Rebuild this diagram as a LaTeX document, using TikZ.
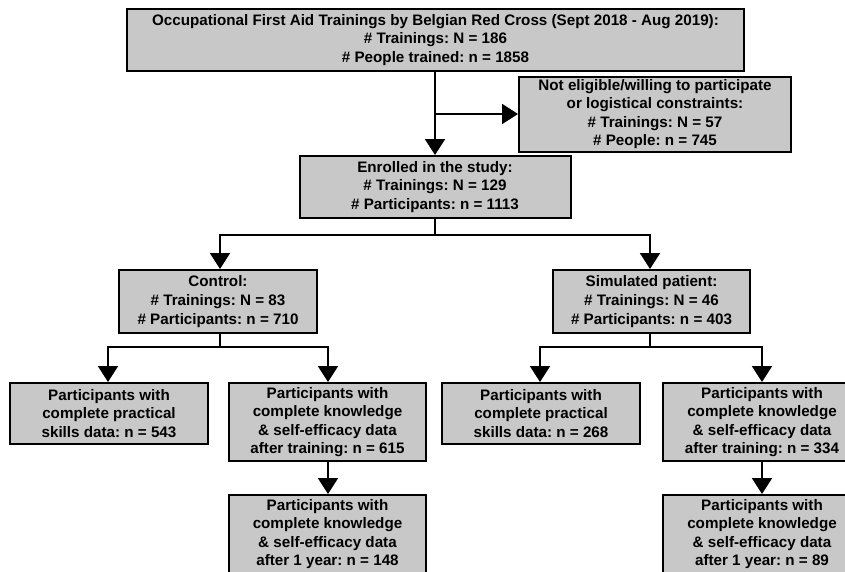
\documentclass[tikz,border=0pt]{standalone}
\usepackage{fontspec}
\setmainfont{Liberation Sans}
\usetikzlibrary{arrows.meta}
\definecolor{boxgray}{RGB}{200,200,200}
\tikzset{
  box/.style={draw=black, fill=boxgray, line width=2pt, inner sep=0pt,
    align=center, font=\frenchspacing\bfseries\fontsize{15.2}{18.6}\selectfont},
  conn/.style={line width=2pt, draw=black},
  arr/.style={conn, -{Triangle[width=20pt,length=16pt]}},
}
\begin{document}
\begin{tikzpicture}[x=1pt,y=-1pt]
\useasboundingbox (0,0) rectangle (845,571);
\clip (0,0) rectangle (845,571);
\fill[white] (0,0) rectangle (845,571);
\node[box, minimum width=617pt, minimum height=62pt] (top) at (435.5,40)
  {Occupational First Aid Trainings by Belgian Red Cross (Sept 2018 - Aug 2019):\\ \# Trainings: N = 186\\ \# People trained: n = 1858};
\node[box, minimum width=272pt, minimum height=75pt] (ne) at (655,114)
  {Not eligible/willing to participate\\ or logistical constraints:\\ \# Trainings: N = 57\\ \# People: n = 745};
\node[box, minimum width=271pt, minimum height=62pt] (enr) at (435,187)
  {Enrolled in the study:\\ \# Trainings: N = 129\\ \# Participants: n = 1113};
\node[box, minimum width=198pt, minimum height=63pt] (ctl) at (218,301.5)
  {Control:\\ \# Trainings: N = 83\\ \# Participants: n = 710};
\node[box, minimum width=197pt, minimum height=63pt] (sp) at (651.5,301.5)
  {Simulated patient:\\ \# Trainings: N = 46\\ \# Participants: n = 403};
\node[box, minimum width=198pt, minimum height=61pt] (a) at (109,413.5)
  {Participants with\\ complete practical\\ skills data: n = 543};
\node[box, minimum width=197pt, minimum height=78pt] (b) at (327.5,422)
  {Participants with\\ complete knowledge\\ \& self-efficacy data\\ after training: n = 615};
\node[box, minimum width=198pt, minimum height=61pt] (c) at (541,413.5)
  {Participants with\\ complete practical\\ skills data: n = 268};
\node[box, minimum width=198pt, minimum height=78pt] (d) at (762,422)
  {Participants with\\ complete knowledge\\ \& self-efficacy data\\ after training: n = 334};
\node[box, minimum width=197pt, minimum height=78pt] (e) at (327.5,534)
  {Participants with\\ complete knowledge\\ \& self-efficacy data\\ after 1 year: n = 148};
\node[box, minimum width=198pt, minimum height=78pt] (f) at (762,534)
  {Participants with\\ complete knowledge\\ \& self-efficacy data\\ after 1 year: n = 89};
% connectors
\coordinate (j1) at (435,114);
\draw[arr] (top.south -| j1) -- (enr.north -| j1);
\draw[arr] (j1) -- (ne.west |- j1);
\coordinate (j2) at (435,235);
\draw[conn] (enr.south -| j2) -- (j2);
\draw[arr] (j2) -| (ctl.north -| 220,0);
\draw[arr] (j2) -| (sp.north -| 650,0);
\coordinate (j3) at (220,347);
\draw[conn] (ctl.south -| j3) -- (j3);
\draw[arr] (j3) -| (a.north -| 108,0);
\draw[arr] (j3) -| (b.north -| 328,0);
\coordinate (j4) at (650,347);
\draw[conn] (sp.south -| j4) -- (j4);
\draw[arr] (j4) -| (c.north -| 540,0);
\draw[arr] (j4) -| (d.north -| 762,0);
\draw[arr] (b.south -| 328,0) -- (e.north -| 328,0);
\draw[arr] (d.south -| 762,0) -- (f.north -| 762,0);
\end{tikzpicture}
\end{document}
